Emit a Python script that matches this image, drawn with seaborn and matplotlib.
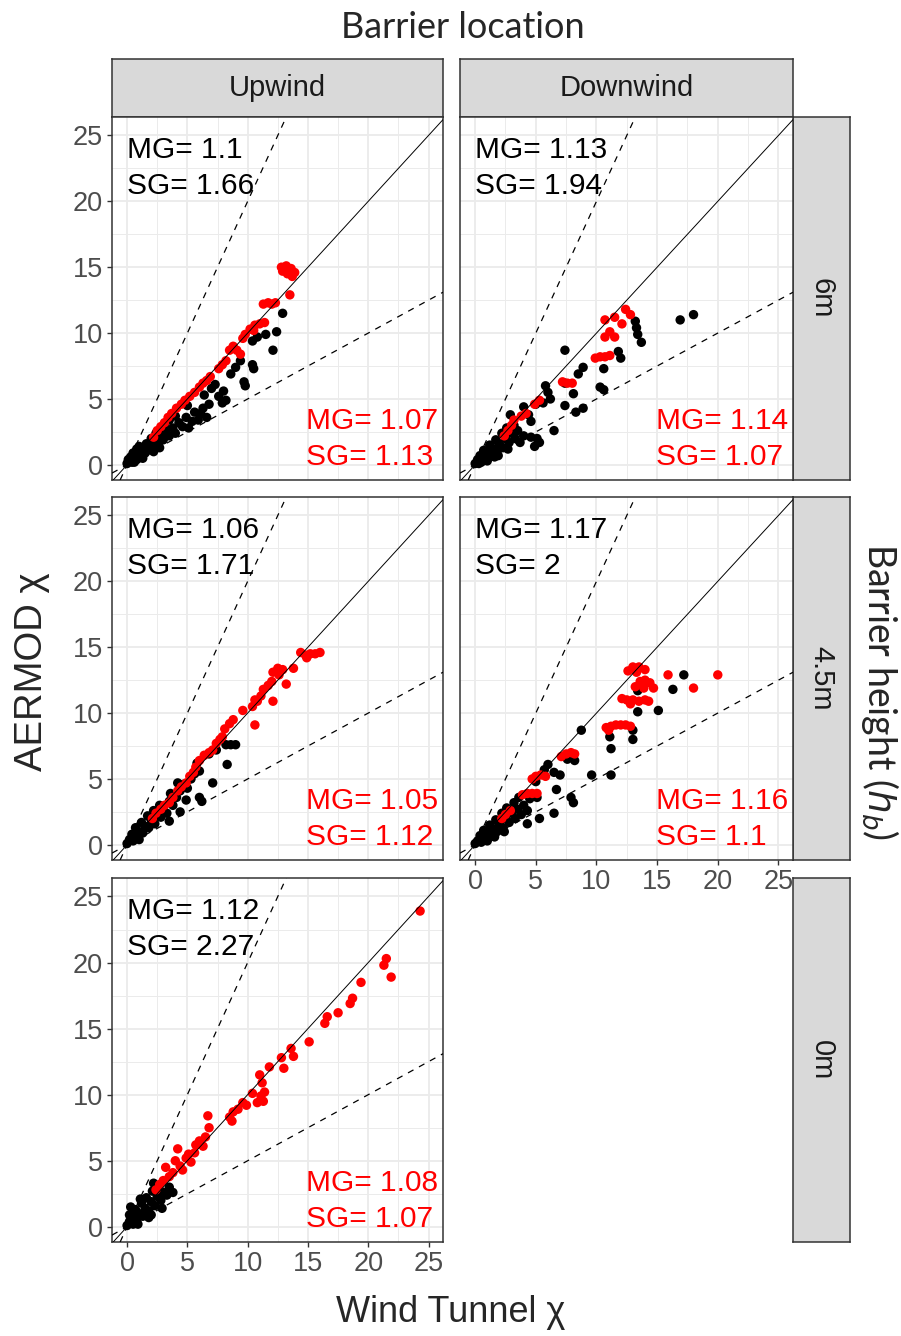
import numpy as np
import pandas as pd
import seaborn as sns
import matplotlib.pyplot as plt

sns.set_style('white')
plt.rcParams['font.family'] = ['Liberation Sans', 'DejaVu Sans']

# ---- data (wind tunnel chi, AERMOD chi) ----
# Upwind / 6m
up6_blk_x = [0.0, 0.2, 0.4, 0.3, 0.6, 0.8, 0.5, 0.9, 1.1, 1.2, 0.8, 1.5, 1.4, 1.7, 1.9, 1.6, 2.1, 2.3, 2.0, 2.6,
             2.8, 2.4, 3.0, 3.2, 3.5, 3.1, 3.8, 4.0, 1.0, 0.1, 4.3, 4.6, 4.9, 5.1, 5.4, 5.6, 5.9, 6.1, 6.3, 6.6,
             6.8, 6.4, 7.0, 7.3, 7.6, 7.9, 8.2, 8.0, 8.6, 9.0, 9.4, 9.7, 9.8, 10.4, 10.5, 10.4, 10.8, 12.1, 12.4,
             12.9, 11.5, 5.0, 4.0, 3.5, 0.6, 1.3, 2.2, 2.7]
up6_blk_y = [0.1, 0.3, 0.2, 0.6, 0.5, 0.4, 0.9, 0.8, 0.6, 1.0, 1.2, 0.9, 1.3, 1.1, 1.5, 1.6, 1.3, 1.8, 2.0, 1.6,
             2.2, 2.4, 1.9, 2.5, 2.2, 2.9, 2.8, 2.4, 1.4, 0.4, 3.2, 2.9, 3.6, 2.8, 3.3, 4.0, 3.4, 3.9, 4.3, 3.6,
             4.6, 5.3, 5.8, 6.1, 5.2, 4.7, 4.9, 5.6, 6.9, 7.4, 7.9, 6.3, 6.0, 7.6, 7.3, 9.4, 9.7, 8.7, 10.1,
             11.5, 9.9, 4.5, 3.7, 3.4, 0.2, 0.5, 1.0, 1.3]
up6_red_x = [2.2, 2.5, 2.8, 3.1, 3.4, 3.7, 4.1, 4.5, 4.8, 5.2, 5.6, 6.0, 6.3, 6.6, 6.9, 7.6, 7.9, 8.2, 8.5, 8.8,
             9.1, 9.4, 9.6, 9.8, 10.2, 10.6, 11.0, 11.4, 10.5, 11.3, 11.7, 12.0, 12.3, 13.5, 12.8, 13.2, 13.6,
             13.9, 13.3, 12.9, 13.7]
up6_red_y = [2.1, 2.6, 2.9, 3.2, 3.6, 3.9, 4.3, 4.6, 4.9, 5.2, 5.5, 5.9, 6.2, 6.4, 6.7, 7.3, 7.6, 7.9, 8.7, 9.0,
             8.7, 8.4, 9.6, 9.9, 10.3, 10.6, 10.7, 10.8, 10.2, 12.2, 12.3, 12.2, 12.3, 12.9, 15.0, 15.1, 14.9,
             14.6, 14.5, 14.7, 14.3]

# Downwind / 6m
dn6_blk_x = [0.0, 0.2, 0.5, 0.4, 0.8, 1.0, 0.7, 1.3, 1.5, 1.2, 1.8, 2.0, 1.7, 2.3, 2.5, 2.2, 2.8, 3.0, 2.6, 3.3,
             0.3, 1.0, 1.6, 2.9, 3.5, 3.7, 4.0, 4.0, 4.6, 4.6, 4.9, 5.1, 5.3, 5.6, 5.8, 6.5, 6.2, 7.4, 7.4, 7.4,
             8.1, 8.3, 8.5, 8.9, 8.9, 10.3, 10.6, 10.6, 12.0, 11.8, 13.2, 13.3, 13.4, 13.7, 16.9, 18.0, 3.2, 4.4,
             6.0, 5.0, 0.6, 1.9, 2.7]
dn6_blk_y = [0.1, 0.4, 0.2, 0.7, 0.5, 0.9, 1.1, 0.7, 1.2, 1.5, 1.0, 1.6, 1.9, 1.3, 2.0, 2.4, 1.7, 2.4, 2.8, 2.0,
             0.1, 0.3, 0.6, 3.8, 2.6, 1.7, 2.2, 4.4, 3.3, 2.1, 1.4, 2.0, 1.7, 4.7, 6.0, 2.6, 5.0, 4.5, 6.2, 8.7,
             5.4, 4.0, 6.9, 4.3, 7.4, 5.9, 5.7, 7.3, 8.1, 8.6, 10.9, 10.4, 9.9, 9.3, 11.0, 11.4, 3.0, 3.8,
             5.5, 4.6, 0.4, 0.7, 1.2]
dn6_red_x = [2.4, 2.7, 3.0, 3.2, 3.8, 4.2, 4.9, 5.3, 7.2, 7.6, 8.0, 9.9, 10.3, 10.7, 11.1, 10.7, 11.5, 12.4,
             12.8, 11.1, 10.7, 11.5, 12.1]
dn6_red_y = [2.2, 2.6, 3.0, 3.4, 3.7, 3.9, 4.6, 4.9, 6.3, 6.2, 6.2, 8.1, 8.2, 8.2, 8.3, 11.0, 11.2, 11.8,
             11.4, 10.1, 9.7, 9.7, 10.7]

# Upwind / 4.5m
up45_blk_x = [0.0, 0.2, 0.5, 0.4, 0.8, 1.0, 0.7, 1.3, 1.5, 1.2, 1.8, 2.0, 1.7, 2.3, 2.5, 2.2, 2.8, 3.0, 2.7, 3.3,
              3.5, 3.8, 4.1, 3.6, 4.4, 4.7, 4.2, 5.0, 5.3, 5.6, 1.0, 3.5, 4.4, 4.9, 6.0, 6.2, 7.1, 8.3, 7.4, 8.2,
              8.6, 9.0, 6.8, 6.0, 5.8]
up45_blk_y = [0.1, 0.4, 0.3, 0.8, 0.6, 1.0, 1.3, 0.9, 1.4, 1.7, 1.3, 1.9, 2.2, 1.6, 2.3, 2.6, 2.1, 2.8, 3.0, 2.4,
              3.3, 3.0, 3.6, 3.9, 4.1, 4.6, 4.7, 4.3, 5.0, 5.4, 0.4, 1.8, 2.5, 3.4, 3.6, 3.3, 4.7, 6.1, 7.2, 7.6,
              7.6, 7.6, 6.9, 5.6, 6.2]
up45_red_x = [2.1, 2.4, 2.8, 3.1, 3.5, 3.8, 4.2, 4.5, 4.9, 5.2, 5.5, 5.7, 6.0, 6.4, 6.8, 7.1, 7.4, 7.7, 7.9, 8.1,
              8.5, 8.8, 9.6, 10.4, 10.8, 11.1, 10.6, 10.6, 11.3, 11.7, 12.0, 12.1, 12.1, 12.5, 12.9, 12.6, 13.2,
              13.8, 14.4, 14.8, 15.2, 15.6, 16.0, 14.9]
up45_red_y = [2.0, 2.4, 2.7, 3.0, 3.2, 3.6, 4.1, 4.4, 4.7, 5.2, 5.5, 5.9, 6.4, 6.8, 7.0, 7.2, 7.7, 8.0, 8.2, 8.8,
              9.2, 9.5, 10.2, 10.5, 10.9, 11.3, 11.0, 9.1, 11.8, 12.1, 12.4, 10.9, 13.1, 13.4, 13.3, 12.9, 12.2,
              13.4, 14.6, 14.4, 14.5, 14.5, 14.6, 14.2]

# Downwind / 4.5m
dn45_blk_x = [0.0, 0.2, 0.5, 0.4, 0.8, 1.0, 0.7, 1.3, 1.5, 1.2, 1.8, 2.0, 1.7, 2.3, 2.5, 2.2, 2.8, 3.0, 2.6, 3.3,
              3.5, 3.8, 3.2, 4.0, 4.3, 3.6, 4.5, 1.0, 1.6, 2.4, 4.3, 5.3, 6.5, 5.1, 6.7, 7.9, 8.1, 5.7, 6.5, 7.0,
              8.2, 8.75, 9.6, 11.2, 11.1, 11.2, 13.0, 13.0, 13.4, 13.4, 15.1, 16.3, 17.2, 6.0, 5.0, 7.6]
dn45_blk_y = [0.1, 0.3, 0.2, 0.7, 0.5, 0.9, 1.1, 0.7, 1.2, 1.5, 1.0, 1.6, 1.9, 1.3, 2.0, 2.4, 1.7, 2.4, 2.8, 2.0,
              2.7, 2.3, 3.2, 3.0, 2.6, 3.6, 3.5, 0.3, 0.6, 1.0, 1.6, 2.0, 2.4, 3.6, 4.2, 3.6, 3.2, 5.7, 5.5, 5.3,
              6.4, 8.7, 5.3, 5.3, 8.2, 7.3, 8.7, 8.0, 10.1, 11.7, 10.2, 11.8, 12.9, 6.1, 4.8, 6.5]
dn45_red_x = [2.2, 2.5, 2.9, 3.9, 4.3, 4.7, 5.1, 4.7, 5.0, 5.4, 5.8, 7.1, 7.5, 7.9, 8.2, 10.8, 11.2, 11.6, 12.0,
              12.4, 12.8, 11.0, 12.1, 12.5, 13.0, 13.5, 14.0, 14.3, 12.8, 13.2, 13.6, 14.0, 14.4, 14.7, 13.9,
              12.6, 13.0, 13.5, 14.0, 13.3, 15.9, 20.0, 18.0]
dn45_red_y = [2.0, 2.3, 2.6, 3.8, 3.9, 3.9, 3.9, 5.0, 5.2, 5.3, 5.2, 6.7, 6.9, 7.0, 6.9, 8.9, 9.0, 9.1, 9.1,
              9.1, 9.0, 8.7, 11.1, 11.0, 11.0, 10.9, 11.0, 10.9, 10.7, 12.0, 12.4, 12.5, 12.3, 11.9, 11.9,
              13.2, 13.5, 13.5, 13.3, 13.1, 12.9, 12.9, 11.9]

# Upwind / 0m
up0_blk_x = [0.0, 0.2, 0.5, 0.4, 0.8, 1.0, 0.7, 1.3, 1.5, 1.2, 1.8, 2.0, 1.6, 2.3, 2.5, 2.1, 2.8, 3.0, 2.6, 3.3,
             3.5, 2.2, 0.2, 0.9, 1.8, 0.3, 3.8, 2.0, 1.1, 2.9]
up0_blk_y = [0.1, 0.4, 0.2, 0.8, 0.5, 1.0, 1.3, 0.8, 1.4, 1.8, 1.2, 1.9, 2.2, 1.6, 2.3, 2.7, 2.0, 2.6, 3.1, 2.4,
             3.0, 3.3, 0.9, 0.2, 0.7, 1.5, 2.6, 0.9, 2.1, 1.4]
up0_red_x = [2.4, 2.7, 3.0, 3.2, 3.5, 3.8, 4.0, 4.2, 4.4, 4.6, 4.9, 5.1, 5.3, 5.6, 5.7, 6.0, 6.3, 6.7, 6.8, 6.5,
             8.5, 8.7, 8.8, 9.2, 9.6, 9.9, 10.4, 10.8, 11.0, 11.2, 11.4, 11.1, 11.3, 11.8, 12.8, 13.0, 13.6,
             13.8, 15.1, 16.4, 16.6, 17.5, 18.5, 18.7, 19.4, 21.3, 21.5, 21.9, 24.3]
up0_red_y = [2.8, 3.2, 3.5, 4.5, 3.8, 4.1, 5.0, 5.9, 4.6, 4.3, 5.2, 5.5, 4.9, 5.6, 6.2, 6.5, 6.1, 8.4, 7.5, 6.8,
             8.3, 8.0, 8.7, 8.9, 9.4, 9.2, 10.1, 9.4, 11.5, 10.9, 10.2, 9.9, 9.5, 12.1, 12.8, 12.0, 13.5,
             12.9, 14.0, 15.4, 15.9, 16.2, 16.9, 17.3, 18.5, 19.8, 20.3, 18.9, 23.9]

locations = ['Upwind', 'Downwind']
heights = ['6m', '4.5m', '0m']
stats_all = {('Upwind', '6m'): ('1.1', '1.66'), ('Downwind', '6m'): ('1.13', '1.94'),
             ('Upwind', '4.5m'): ('1.06', '1.71'), ('Downwind', '4.5m'): ('1.17', '2'),
             ('Upwind', '0m'): ('1.12', '2.27')}
stats_sub = {('Upwind', '6m'): ('1.07', '1.13'), ('Downwind', '6m'): ('1.14', '1.07'),
             ('Upwind', '4.5m'): ('1.05', '1.12'), ('Downwind', '4.5m'): ('1.16', '1.1'),
             ('Upwind', '0m'): ('1.08', '1.07')}

series = {('Upwind', '6m'): (up6_blk_x, up6_blk_y, up6_red_x, up6_red_y),
          ('Downwind', '6m'): (dn6_blk_x, dn6_blk_y, dn6_red_x, dn6_red_y),
          ('Upwind', '4.5m'): (up45_blk_x, up45_blk_y, up45_red_x, up45_red_y),
          ('Downwind', '4.5m'): (dn45_blk_x, dn45_blk_y, dn45_red_x, dn45_red_y),
          ('Upwind', '0m'): (up0_blk_x, up0_blk_y, up0_red_x, up0_red_y)}

rows = []
for (loc, hb), (bx, by, rx, ry) in series.items():
    rows += [{'loc': loc, 'hb': hb, 'wt': a, 'aer': b, 'grp': 'all'} for a, b in zip(bx, by)]
    rows += [{'loc': loc, 'hb': hb, 'wt': a, 'aer': b, 'grp': 'sub'} for a, b in zip(rx, ry)]
df = pd.DataFrame(rows)

# ---- layout (pixel boxes) ----
W, H = 901, 1336
fig = plt.figure(figsize=(W / 100, H / 100), dpi=100)

def box(x0, y0, x1, y1):
    return [x0 / W, 1 - y1 / H, (x1 - x0) / W, (y1 - y0) / H]

col_x = [(112, 443), (460, 793)]
row_y = [(117, 480), (497, 860), (878, 1242)]
border = '#333333'

def strip(rect, label, rotation=0):
    sax = fig.add_axes(rect)
    sax.set_facecolor('#D9D9D9')
    sax.set_xticks([])
    sax.set_yticks([])
    for sp in sax.spines.values():
        sp.set_color(border)
        sp.set_linewidth(1.1)
    sax.text(0.5, 0.5, label, ha='center', va='center', rotation=rotation,
             fontsize=21, color='#1A1A1A', transform=sax.transAxes)

for c, loc in enumerate(locations):
    strip(box(col_x[c][0], 59, col_x[c][1], 117), loc)
for r, hb in enumerate(heights):
    strip(box(793, row_y[r][0], 850, row_y[r][1]), hb, rotation=-90)

for (loc, hb) in series:
    c = locations.index(loc)
    r = heights.index(hb)
    ax = fig.add_axes(box(col_x[c][0], row_y[r][0], col_x[c][1], row_y[r][1]))
    sub = df[(df['loc'] == loc) & (df['hb'] == hb)]
    sns.scatterplot(data=sub, x='wt', y='aer', hue='grp', palette={'all': 'black', 'sub': 'red'},
                    s=46, linewidth=0, legend=False, ax=ax, zorder=3)
    ax.axline((0, 0), slope=1, color='black', lw=0.7, zorder=5)
    ax.axline((0, 0), slope=2, color='black', lw=0.9, ls=(0, (5, 5)), zorder=5)
    ax.axline((0, 0), slope=0.5, color='black', lw=0.9, ls=(0, (5, 5)), zorder=5)
    ax.set_xlim(-1.25, 26.2)
    ax.set_ylim(-1.15, 26.4)
    ax.set_xticks(np.arange(0, 26, 5))
    ax.set_yticks(np.arange(0, 26, 5))
    ax.set_xticks(np.arange(2.5, 26, 5), minor=True)
    ax.set_yticks(np.arange(2.5, 26, 5), minor=True)
    ax.grid(which='major', color='#EBEBEB', lw=1.3)
    ax.grid(which='minor', color='#EBEBEB', lw=0.7)
    ax.set_axisbelow(True)
    ax.set_xlabel('')
    ax.set_ylabel('')
    for sp in ax.spines.values():
        sp.set_color(border)
        sp.set_linewidth(1.1)
    ax.tick_params(which='major', length=3.5, width=1, color=border, labelcolor='#4D4D4D',
                   labelsize=19.5, pad=3)
    ax.tick_params(which='minor', length=0)
    show_x = (c == 0 and r == 2) or (c == 1 and r == 1)
    ax.tick_params(axis='x', bottom=show_x, labelbottom=show_x)
    ax.tick_params(axis='y', left=(c == 0), labelleft=(c == 0))

    mg, sg = stats_all[(loc, hb)]
    ax.text(0.045, 0.948, f'MG= {mg}\nSG= {sg}', transform=ax.transAxes, ha='left', va='top',
            fontsize=21.5, color='black', linespacing=1.35, zorder=6)
    mg, sg = stats_sub[(loc, hb)]
    ax.text(0.985, 0.026, f'MG= {mg}\nSG= {sg}', transform=ax.transAxes, ha='right', va='bottom',
            fontsize=21.5, color='red', linespacing=1.35, multialignment='left', zorder=6)

fig.text(463 / W, 1 - 27 / H, 'Barrier location', ha='center', va='center', fontsize=26, family='Lato')
fig.text(880 / W, 1 - 692 / H, r'Barrier height ($h_b$)', ha='center', va='center', rotation=-90,
         fontsize=27, family='Lato')
fig.text(451 / W, 1 - 1313 / H, 'Wind Tunnel χ', ha='center', va='center', fontsize=26)
fig.text(32 / W, 1 - 672 / H, 'AERMOD χ', ha='center', va='center', rotation=90, fontsize=27.5)

fig.savefig('out.png', dpi=100)
